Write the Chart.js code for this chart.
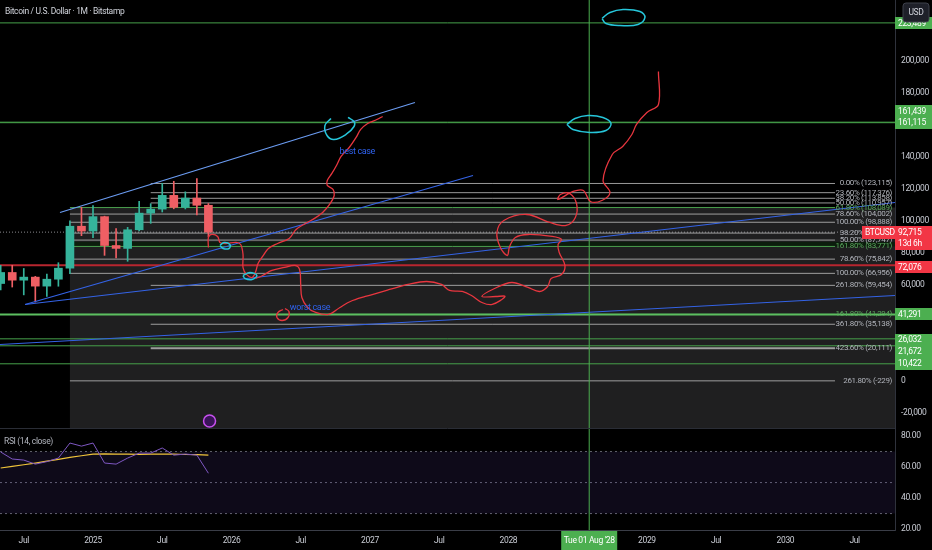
<!DOCTYPE html>
<html>
<head>
<meta charset="utf-8">
<script src="https://cdn.jsdelivr.net/npm/chart.js@4.4.1/dist/chart.umd.min.js"></script>
<style>
  html, body { margin: 0; padding: 0; background: #000; overflow: hidden; }
  #wrap { position: relative; width: 932px; height: 550px; background: #000; }
  canvas { position: absolute; left: 0; }
  #main { top: 0; }
  #rsi { top: 428px; }
</style>
</head>
<body>
<div id="wrap">
  <canvas id="main" width="932" height="428" style="width:932px;height:428px"></canvas>
  <canvas id="rsi" width="932" height="122" style="width:932px;height:122px"></canvas>
</div>
<script>
// time is counted in months from Jan 2025 (0 = Jan 2025)
const candleMonths = [-8, -7, -6, -5, -4, -3, -2, -1, 0, 1, 2, 3, 4, 5, 6, 7, 8, 9, 10];
const opens  = [60600, 67500, 62700, 64600, 58970, 63300, 70200, 96400, 93400, 102400, 84350, 82550, 94200, 104600, 107100, 115700, 108200, 114000, 109500];
const highs  = [71950, 72000, 70000, 65100, 66500, 73600, 99800, 108300, 109300, 102700, 95000, 95700, 111900, 110500, 123200, 124500, 117900, 126200, 110600];
const lows   = [56550, 58400, 53500, 49000, 52550, 58900, 66800, 90500, 89200, 78200, 76600, 74500, 93400, 98200, 105300, 107300, 107200, 103500, 89900];
const closes = [67500, 62700, 64600, 58970, 63300, 70200, 96400, 93400, 102400, 84350, 82550, 94200, 104600, 107100, 115700, 108200, 114000, 109500, 92715];

const rsiValues   = [69.7, 65.2, 64.5, 61.9, 63.5, 65.8, 75.5, 73.5, 75.5, 62.6, 61.9, 65.8, 69.0, 69.0, 72.3, 67.7, 68.4, 67.7, 56.0];
const rsiMaValues = [59.4, 60.5, 61.5, 62.6, 63.8, 65.0, 66.2, 67.3, 68.4, 68.5, 68.4, 68.3, 68.2, 68.3, 68.4, 68.3, 68.1, 68.0, 67.7];
const rsiLevels = [70, 50, 30];

const tickMonths = [-6, 0, 6, 12, 18, 24, 30, 36, 42, 48, 54, 60, 66];
const tickLabels = ['Jul', '2025', 'Jul', '2026', 'Jul', '2027', 'Jul', '2028', 'Jul', '2029', 'Jul', '2030', 'Jul'];
const priceTicks = [200000, 180000, 140000, 120000, 100000, 80000, 60000, 0, -20000];
const rsiTicks = [80, 60, 40, 20];

const fibValues = [123115, 117376, 113858, 110957, 108089, 104002, 98888, 92118, 87747, 83771, 75842, 66956, 59454, 41294, 35138, 20111, -229];
const fibLabels = ['0.00% (123,115)', '23.60% (117,376)', '38.20% (113,858)', '50.00% (110,957)', '61.80% (108,089)',
  '78.60% (104,002)', '100.00% (98,888)', '38.20% (92,118)', '50.00% (87,747)', '161.80% (83,771)', '78.60% (75,842)',
  '100.00% (66,956)', '261.80% (59,454)', '161.80% (41,294)', '361.80% (35,138)', '423.60% (20,111)', '261.80% (-229)'];
const fibStartMonths = [5, 5, 5, 5, -2, -2, -2, -2, -2, -2, -2, -2, 5, -2, 5, 5, -2];
const fibEndMonth = 64.3;
const fibZone = [-2, 108089];
const greenBand = [83771, 86600];

const levelValues = [223489, 161439, 161115, 41291, 26032, 21672, 10422];
const redLevel = 72076;
const lastPrice = 92715;
const cursorMonth = 43;
const cursorLabel = "Tue 01 Aug '28";
const countdown = '13d 6h';

const trendStartMonths = [-2.86, -5.89, -5.89, -8.06];
const trendStartValues = [105000, 47500, 47500, 22500];
const trendEndMonths   = [27.9, 32.93, 69.5, 69.5];
const trendEndValues   = [173750, 128125, 111250, 53125];

const bestMonths = [10.0, 10.0, 10.3, 10.8, 11.0, 11.5, 12.4, 12.8, 13.0, 13.0, 13.3, 13.8, 14.1, 14.3, 14.7, 15.2, 16.0, 17.0,
  17.6, 18.4, 19.2, 19.9, 20.5, 20.9, 20.8, 20.3, 20.3, 20.7, 21.1, 21.5, 22.2, 22.8, 23.2, 23.8, 24.6, 25.1];
const bestValues = [83100, 89400, 91300, 90000, 86300, 85600, 86300, 85000, 78800, 70600, 66300, 64400, 68100, 73100, 77500, 82500, 85600, 88800,
  94400, 98100, 101300, 105000, 110000, 115600, 119400, 121900, 125000, 129400, 134400, 140000, 145600, 151900, 156900, 160600, 163100, 165000];
const worstMonths = [14.1, 14.7, 15.5, 16.6, 17.5, 17.9, 18.0, 18.1, 18.6, 19.3, 20.4, 21.4, 22.3, 23.6, 25.7, 27.3, 28.9, 30.2, 30.9, 32.0,
  32.8, 33.7, 34.6, 35.7, 34.9, 33.7, 34.8, 36.3, 37.7, 38.7, 39.4, 39.7, 40.6, 40.9, 40.4, 40.3, 40.6, 39.8, 37.7, 36.6,
  36.1, 35.9, 35.3, 35.0, 35.6, 37.6, 39.6, 41.0, 41.8, 41.9, 41.3, 40.5, 40.3, 41.6, 42.5, 43.1, 44.1, 44.8, 44.2, 45.0,
  45.9, 46.7, 47.1, 48.0, 49.0, 49.0];
const worstValues = [63750, 65625, 68750, 70625, 71875, 69375, 60000, 51875, 45625, 42500, 41250, 45625, 49375, 52500, 56875, 60000, 61875, 60000, 56250, 55625,
  53125, 48750, 47500, 52500, 52500, 52500, 57500, 61250, 58125, 55625, 58750, 63750, 66250, 71875, 80000, 85000, 88125, 90000, 91250, 89375,
  83750, 78125, 83125, 92500, 100000, 103750, 98750, 96875, 101875, 110625, 116875, 116250, 113125, 118125, 118750, 111875, 112500, 117500, 125000, 141250,
  146250, 153750, 160000, 167500, 172500, 193125];
const loopMonths = [16.46, 16.03, 15.94, 16.38, 16.90, 16.98, 16.64];
const loopValues = [44375, 42500, 39375, 37500, 39375, 43125, 45000];

const circleBestMonths = [20.62, 20.10, 20.28, 20.88, 21.92, 22.62, 22.62, 22.10];
const circleBestValues = [163750, 159375, 153125, 150625, 153750, 158750, 161875, 164375];
const circleMidMonths = [41.07, 41.77, 42.89, 44.19, 44.89, 44.45, 43.07, 41.59, 41.07];
const circleMidValues = [160000, 163750, 165625, 164375, 160625, 156250, 155000, 156875, 160000];
const circleTopMonths = [44.11, 44.80, 45.93, 47.40, 47.83, 47.23, 45.67, 44.45, 44.11];
const circleTopValues = [226250, 230000, 231875, 230625, 226875, 222500, 221875, 223125, 226250];
const circleAMonths = [11.0, 11.35, 11.87, 11.79, 11.27, 11.0];
const circleAValues = [84375, 86250, 85000, 82500, 82500, 84375];
const circleBMonths = [13.0, 13.6, 14.2, 13.78, 13.17, 13.0];
const circleBValues = [65625, 67500, 65625, 63125, 63750, 65625];

const noteTexts = ['best case', 'worst case'];
const noteMonths = [22.9, 18.8];
const noteValues = [143100, 45600];
const iconMonths = [10.1];
const iconValues = [-25300];

// view
const xMin = -8.06, xMax = 69.5;
const yMin = -29700, yMax = 237800;
const FONT = 'Roboto, "Liberation Sans", sans-serif';
const SPACING = '-0.35px';
const GREEN = '#4caf50', RED = '#f23645', UP = '#35b39b', DOWN = '#ef5f64';
const greenFibs = new Set([4, 9, 13]);
const thickFibs = new Set([15]);
const labelNudge = { 161439: -11, 21672: 6, 26032: 1, 72076: 2 };

const pts = (ms, vs) => ms.map((m, i) => ({ x: m, y: vs[i] }));
const flat = (v, from, to) => [{ x: from, y: v }, { x: to, y: v }];
function lineDs(data, color, width, order, extra) {
  return Object.assign({ type: 'line', data, borderColor: color, borderWidth: width, pointRadius: 0, fill: false, tension: 0, order }, extra || {});
}

const datasets = [];
// drawings on top
[[circleBestMonths, circleBestValues], [circleMidMonths, circleMidValues], [circleTopMonths, circleTopValues],
 [circleAMonths, circleAValues], [circleBMonths, circleBValues]].forEach(([m, v]) => {
  datasets.push(lineDs(pts(m, v), '#26c6da', 1.5, 1, { tension: 0.4 }));
});
datasets.push(lineDs(pts(bestMonths, bestValues), '#e8363f', 1.3, 1, { tension: 0.35 }));
datasets.push(lineDs(pts(worstMonths, worstValues), '#e8363f', 1.3, 1, { tension: 0.35 }));
datasets.push(lineDs(pts(loopMonths, loopValues), '#e8363f', 1.3, 1, { tension: 0.4 }));
datasets.push({ type: 'line', data: pts(iconMonths, iconValues), showLine: false, pointRadius: 6, pointBorderWidth: 1.5,
  pointBackgroundColor: '#3a1458', pointBorderColor: '#c850f0', order: 1 });
datasets.push(lineDs([{ x: cursorMonth, y: yMin }, { x: cursorMonth, y: yMax }], GREEN, 1, 1));
trendStartMonths.forEach((m, i) => {
  datasets.push(lineDs([{ x: m, y: trendStartValues[i] }, { x: trendEndMonths[i], y: trendEndValues[i] }],
    i === 0 ? '#6b9cf2' : '#3463e6', 1.2, 2));
});
// candles
const candleColor = ctx => closes[ctx.dataIndex] >= opens[ctx.dataIndex] ? UP : DOWN;
datasets.push({ type: 'bar', data: candleMonths.map((m, i) => ({ x: m, y: [opens[i], closes[i]] })),
  backgroundColor: candleColor, grouped: false, barThickness: 8, maxBarThickness: 8, order: 3 });
datasets.push({ type: 'bar', data: candleMonths.map((m, i) => ({ x: m, y: [lows[i], highs[i]] })),
  backgroundColor: candleColor, grouped: false, barThickness: 1, maxBarThickness: 1, order: 4 });
// horizontal levels
levelValues.forEach(v => {
  datasets.push(lineDs(flat(v, xMin, xMax), v === 41291 ? '#5cbf60' : '#46a04a', v === 41291 ? 2 : 1, 5));
});
datasets.push(lineDs(flat(redLevel, xMin, xMax), '#b8262f', 2, 5));
fibValues.forEach((v, i) => {
  datasets.push(lineDs(flat(v, fibStartMonths[i], fibEndMonth), greenFibs.has(i) ? '#4a9e4d' : 'rgba(190,190,190,0.8)',
    thickFibs.has(i) ? 2 : 1, 6));
});
datasets.push(lineDs(flat(lastPrice, xMin, xMax), 'rgba(170,170,175,0.8)', 1, 7, { borderDash: [1, 2] }));

function box(ctx, x, yc, w, h, bg, text, fg) {
  ctx.fillStyle = bg;
  ctx.fillRect(x, Math.round(yc - h / 2), w, h);
  ctx.fillStyle = fg;
  ctx.textAlign = 'left';
  ctx.textBaseline = 'middle';
  ctx.fillText(text, x + 3, yc + 0.5);
}

const tightText = {
  id: 'tightText',
  beforeDraw(chart) { chart.ctx.letterSpacing = SPACING; }
};

const mainOverlay = {
  id: 'mainOverlay',
  beforeDatasetsDraw(chart) {
    const { ctx, chartArea: a, scales: { x, y } } = chart;
    ctx.save();
    const left = x.getPixelForValue(fibZone[0]);
    const top = y.getPixelForValue(fibZone[1]);
    ctx.fillStyle = '#1f1f20';
    ctx.fillRect(left, top, a.right - left, a.bottom - top);
    const gt = y.getPixelForValue(greenBand[1]), gb = y.getPixelForValue(greenBand[0]);
    ctx.fillStyle = '#0c1d0d';
    ctx.fillRect(left, gt, a.right - left, gb - gt);
    ctx.restore();
  },
  afterDatasetsDraw(chart) {
    const { ctx, chartArea: a, scales: { x, y } } = chart;
    ctx.save();
    ctx.letterSpacing = SPACING;
    ctx.font = '8px ' + FONT;
    // fib labels
    ctx.textAlign = 'right';
    ctx.textBaseline = 'middle';
    fibValues.forEach((v, i) => {
      ctx.fillStyle = greenFibs.has(i) ? '#5aa85d' : '#b0b3ba';
      ctx.fillText(fibLabels[i], a.right - 3, y.getPixelForValue(v));
    });
    // notes
    ctx.font = '9px ' + FONT;
    ctx.textAlign = 'center';
    ctx.fillStyle = '#2f62ee';
    noteTexts.forEach((t, i) => ctx.fillText(t, x.getPixelForValue(noteMonths[i]), y.getPixelForValue(noteValues[i])));
    // price scale boxes
    ctx.font = '8.5px ' + FONT;
    levelValues.concat([redLevel]).forEach(v => {
      const yc = y.getPixelForValue(v) + (labelNudge[v] || 0);
      box(ctx, a.right, yc, 37, 12, v === redLevel ? RED : GREEN, v.toLocaleString('en-US'), '#ffffff');
    });
    const yp = y.getPixelForValue(lastPrice);
    box(ctx, a.right - 33, yp, 33, 13, RED, 'BTCUSD', '#ffffff');
    ctx.fillStyle = RED;
    ctx.fillRect(a.right, Math.round(yp - 6), 37, 24);
    ctx.fillStyle = '#ffffff';
    ctx.textAlign = 'left';
    ctx.fillText(lastPrice.toLocaleString('en-US'), a.right + 3, yp + 0.5);
    ctx.fillText(countdown, a.right + 3, yp + 11.5);
    // currency button
    ctx.fillStyle = '#1e2029';
    ctx.strokeStyle = '#3d404b';
    ctx.beginPath();
    ctx.roundRect(a.right + 8, 3, 26, 19, 3);
    ctx.fill();
    ctx.stroke();
    ctx.fillStyle = '#d1d4dc';
    ctx.textAlign = 'center';
    ctx.fillText('USD', a.right + 21, 13);
    // header
    ctx.textAlign = 'left';
    ctx.font = '8.5px ' + FONT;
    ctx.fillStyle = '#d1d4dc';
    ctx.fillText('Bitcoin / U.S. Dollar · 1M · Bitstamp', 5, 12);
    ctx.restore();
  }
};

new Chart(document.getElementById('main'), {
  type: 'line',
  data: { datasets },
  options: {
    responsive: false, animation: false, events: [],
    layout: { padding: 0, autoPadding: false },
    plugins: { legend: { display: false }, tooltip: { enabled: false } },
    scales: {
      x: { type: 'linear', min: xMin, max: xMax, display: false, offset: false },
      y: {
        type: 'linear', position: 'right', min: yMin, max: yMax,
        grid: { display: false, drawTicks: false },
        border: { display: true, color: '#2f323c' },
        ticks: { color: '#c9ccd4', font: { family: FONT, size: 8.5 }, padding: 6, callback: v => v.toLocaleString('en-US') },
        afterBuildTicks: s => { s.ticks = priceTicks.map(v => ({ value: v })); },
        afterFit: s => { s.width = 37; s.paddingTop = 0; s.paddingBottom = 0; }
      }
    }
  },
  plugins: [tightText, mainOverlay]
});

const rsiOverlay = {
  id: 'rsiOverlay',
  afterDraw(chart) {
    const { ctx, chartArea: a, scales: { x } } = chart;
    ctx.save();
    ctx.letterSpacing = SPACING;
    ctx.strokeStyle = '#2a2d36';
    ctx.beginPath();
    ctx.moveTo(0, 0.5);
    ctx.lineTo(a.right, 0.5);
    ctx.stroke();
    ctx.font = '8.5px ' + FONT;
    ctx.fillStyle = '#b2b5be';
    ctx.textAlign = 'left';
    ctx.textBaseline = 'middle';
    ctx.fillText('RSI (14, close)', 4, 14);
    const cx = x.getPixelForValue(cursorMonth);
    ctx.fillStyle = GREEN;
    ctx.fillRect(cx - 28, a.bottom + 1, 56, chart.height - a.bottom - 1);
    ctx.fillStyle = '#ffffff';
    ctx.textAlign = 'center';
    ctx.fillText(cursorLabel, cx, (a.bottom + chart.height) / 2 + 1);
    ctx.restore();
  }
};

const rsiDatasets = [
  lineDs(pts(candleMonths, rsiValues), '#7e57c2', 1, 1),
  lineDs(pts(candleMonths, rsiMaValues), '#f0c43a', 1.2, 2),
  lineDs([{ x: cursorMonth, y: 0 }, { x: cursorMonth, y: 100 }], GREEN, 1, 1)
];
rsiLevels.forEach((v, i) => {
  rsiDatasets.push(lineDs(flat(v, xMin, xMax), 'rgba(120,123,134,0.8)', 1, 5,
    i === 0 ? { borderDash: [2, 3], fill: { value: rsiLevels[2] }, backgroundColor: 'rgba(110,80,190,0.13)' } : { borderDash: [2, 3] }));
});

new Chart(document.getElementById('rsi'), {
  type: 'line',
  data: { datasets: rsiDatasets },
  options: {
    responsive: false, animation: false, events: [],
    layout: { padding: 0, autoPadding: false },
    plugins: { legend: { display: false }, tooltip: { enabled: false } },
    scales: {
      x: {
        type: 'linear', min: xMin, max: xMax, offset: false,
        grid: { display: false, drawTicks: false },
        border: { display: true, color: '#3a3d47' },
        ticks: { color: '#c9ccd4', font: { family: FONT, size: 8.5 }, padding: 6, maxRotation: 0, autoSkip: false,
          callback: (v, i) => tickLabels[i] },
        afterBuildTicks: s => { s.ticks = tickMonths.map(v => ({ value: v })); },
        afterFit: s => { s.height = 20; s.paddingLeft = 0; s.paddingRight = 0; }
      },
      y: {
        type: 'linear', position: 'right', min: 19.4, max: 85.2,
        grid: { display: false, drawTicks: false },
        border: { display: true, color: '#2f323c' },
        ticks: { color: '#c9ccd4', font: { family: FONT, size: 8.5 }, padding: 6, callback: v => v.toFixed(2) },
        afterBuildTicks: s => { s.ticks = rsiTicks.map(v => ({ value: v })); },
        afterFit: s => { s.width = 37; s.paddingTop = 0; s.paddingBottom = 0; }
      }
    }
  },
  plugins: [tightText, rsiOverlay]
});
</script>
</body>
</html>
